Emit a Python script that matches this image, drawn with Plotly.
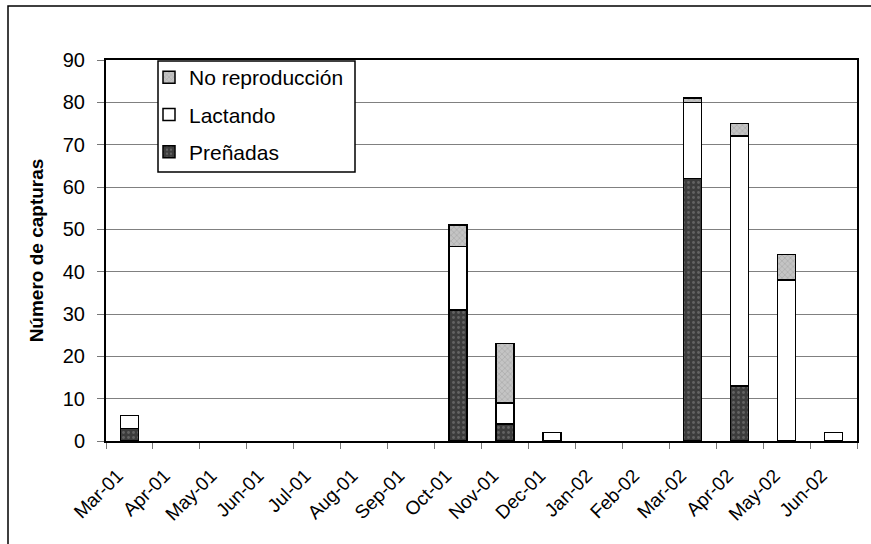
import plotly.graph_objects as go

# Monthly capture counts by reproductive state
months = ["Mar-01", "Apr-01", "May-01", "Jun-01", "Jul-01", "Aug-01", "Sep-01",
          "Oct-01", "Nov-01", "Dec-01", "Jan-02", "Feb-02", "Mar-02", "Apr-02",
          "May-02", "Jun-02"]
prenadas = [3, 0, 0, 0, 0, 0, 0, 31, 4, 0, 0, 0, 62, 13, 0, 0]
lactando = [3, 0, 0, 0, 0, 0, 0, 15, 5, 2, 0, 0, 18, 59, 38, 2]
no_reproduccion = [0, 0, 0, 0, 0, 0, 0, 5, 14, 0, 0, 0, 1, 3, 6, 0]

W, H = 871, 544
L, R, T, B = 106, 14, 60, 103
pw, ph = W - L - R, H - T - B

outline = dict(color="black", width=1.5)


def nonzero(values):
    # empty months get no bar (avoids a flat outline on the axis)
    return [v if v else None for v in values]


fig = go.Figure()
fig.add_trace(go.Bar(
    x=months, y=nonzero(prenadas), name="Preñadas", legendgroup="p", legendrank=3,
    marker=dict(color="#3c3c3c", line=outline,
                pattern=dict(shape=".", fgcolor="#8a8a8a", bgcolor="#3c3c3c",
                             size=5, solidity=0.25)),
))
fig.add_trace(go.Bar(
    x=months, y=nonzero(lactando), name="Lactando", legendgroup="l", legendrank=2,
    marker=dict(color="white", line=outline),
))
fig.add_trace(go.Bar(
    x=months, y=nonzero(no_reproduccion), name="No reproducción", legendgroup="n",
    legendrank=1,
    marker=dict(color="#b8b8b8", line=outline,
                pattern=dict(shape="x", fgcolor="#8c8c8c", bgcolor="#c4c4c4",
                             size=4, solidity=0.3)),
))


def px_x(v):
    return (v - L) / pw


def px_y(v):
    return (H - B - v) / ph


# outer chart frame (open at the bottom and right)
fig.add_shape(type="rect", xref="paper", yref="paper", layer="below",
              x0=px_x(8), x1=px_x(900), y0=px_y(580), y1=px_y(6),
              line=dict(color="black", width=1.5), fillcolor="rgba(0,0,0,0)")

# legend box
fig.add_shape(type="rect", xref="paper", yref="paper", layer="above",
              x0=px_x(158), x1=px_x(355), y0=px_y(172), y1=px_y(61),
              line=dict(color="black", width=1.5), fillcolor="white")

fig.update_layout(
    width=W, height=H,
    margin=dict(l=L, r=R, t=T, b=B, autoexpand=False),
    paper_bgcolor="white", plot_bgcolor="white",
    barmode="stack", bargap=0.617,
    font=dict(family="Arial, Liberation Sans, sans-serif", color="black"),
    showlegend=True,
    legend=dict(
        x=px_x(149), y=px_y(57), xanchor="left", yanchor="top",
        traceorder="grouped", tracegroupgap=7,
        bgcolor="rgba(0,0,0,0)", borderwidth=0,
        font=dict(size=21, family="Arial, Liberation Sans, sans-serif"),
    ),
    xaxis=dict(
        type="category", tickson="boundaries", tickangle=-45,
        ticks="outside", ticklen=6, tickcolor="#777",
        tickfont=dict(size=19), ticklabelshift=-12, ticklabelstandoff=14,
        showline=True, linecolor="black", linewidth=2, mirror=True,
        showgrid=False,
    ),
    yaxis=dict(
        range=[0, 90], dtick=10, tick0=0,
        ticks="outside", ticklen=7, tickcolor="#777",
        tickfont=dict(size=20), ticklabelstandoff=8,
        showline=True, linecolor="black", linewidth=2, mirror=True,
        showgrid=True, gridcolor="#808080", gridwidth=1,
        zeroline=False,
        title=dict(text="<b>Número de capturas</b>", font=dict(size=19), standoff=14),
    ),
)

fig.write_html("out.html")
